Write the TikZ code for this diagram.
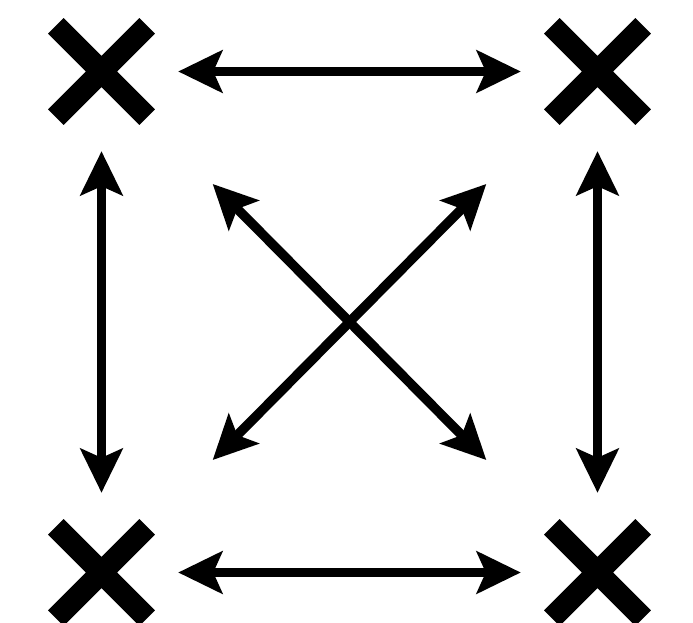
\documentclass[tikz,border=0pt]{standalone}
\usetikzlibrary{arrows.meta,shapes.misc}

\begin{document}
\begin{tikzpicture}[
  x=1pt,y=-1pt,
  xmark/.style={draw, cross out, line width=22pt, minimum size=91.4pt, inner sep=0pt, outer sep=0pt},
  arr/.style={{Stealth[length=44pt,width=42pt,inset=9pt]}-{Stealth[length=44pt,width=42pt,inset=9pt]}, line width=9.5pt}
]
\useasboundingbox (0,0) rectangle (693,623);
\node[xmark] (tl) at (101.5,71.5) {};
\node[xmark] (tr) at (597.5,71.5) {};
\node[xmark] (bl) at (101.5,572.5) {};
\node[xmark] (br) at (597.5,572.5) {};
\draw[arr, shorten <=31pt, shorten >=31pt] (tl) -- (tr);
\draw[arr, shorten <=31pt, shorten >=31pt] (bl) -- (br);
\draw[arr, shorten <=34pt, shorten >=34pt] (tl) -- (bl);
\draw[arr, shorten <=34pt, shorten >=34pt] (tr) -- (br);
\draw[arr, shorten <=94pt, shorten >=94pt] (tl) -- (br);
\draw[arr, shorten <=94pt, shorten >=94pt] (tr) -- (bl);
\end{tikzpicture}
\end{document}
